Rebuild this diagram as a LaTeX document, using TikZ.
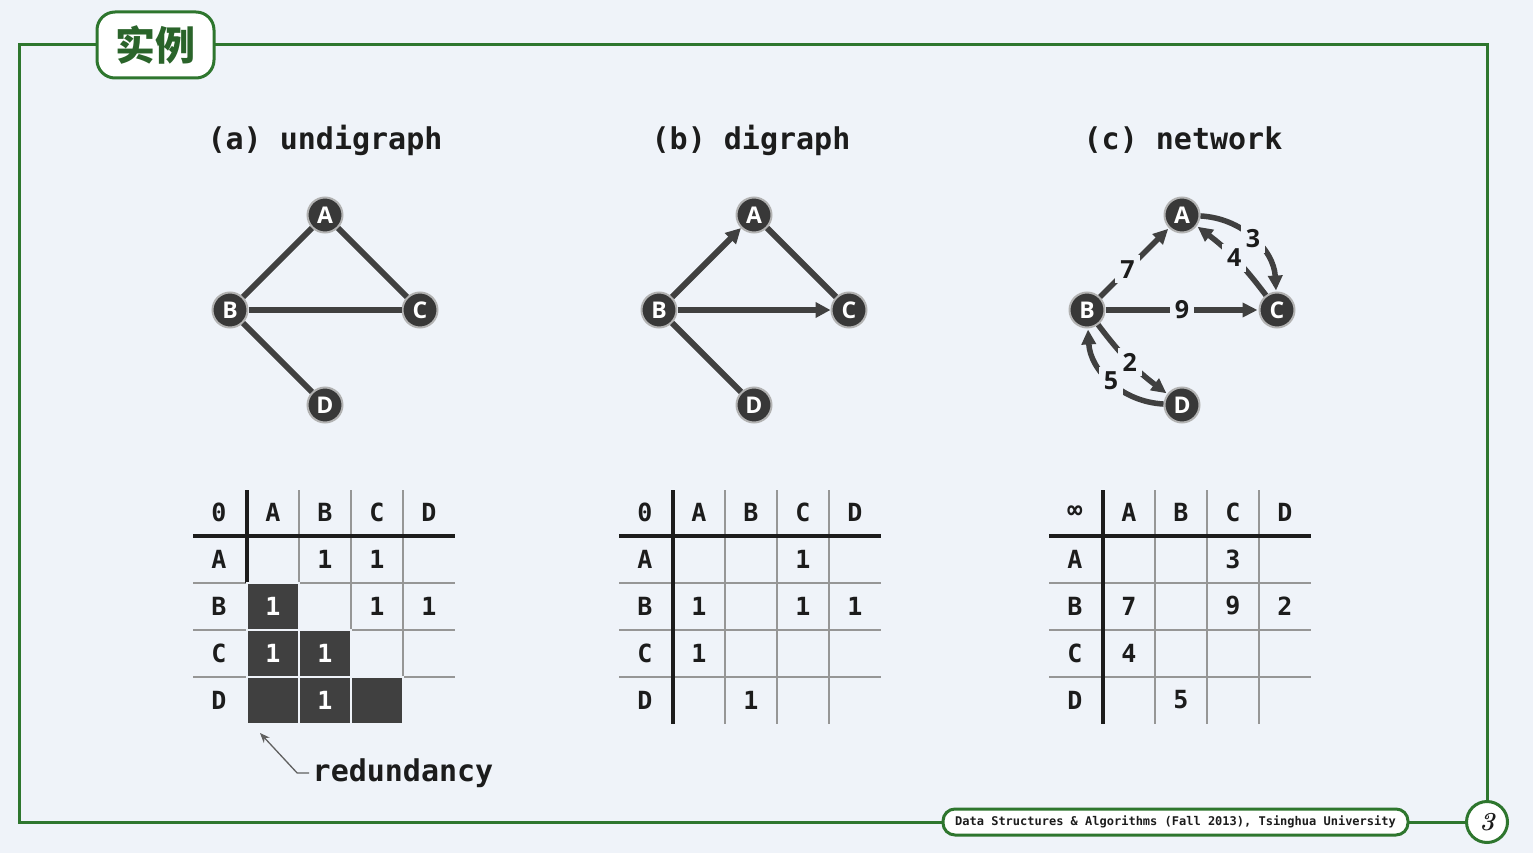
\documentclass[tikz,border=0pt]{standalone}
\usepackage{fontspec}
\newfontfamily\cjk{Noto Sans CJK SC}
\newfontfamily\mono{DejaVu Sans Mono}
\newfontfamily\gsans{Open Sans}
\usetikzlibrary{arrows.meta}
\definecolor{bg}{RGB}{239,243,249}
\definecolor{frameg}{RGB}{46,118,46}
\definecolor{titleg}{RGB}{42,100,42}
\definecolor{edgec}{RGB}{64,64,64}
\definecolor{nodec}{RGB}{56,56,56}
\definecolor{gridc}{RGB}{150,150,150}
\definecolor{txt}{RGB}{28,28,28}
\newcommand\drawgrid[2]{%
  \foreach \k in {52,104,156} \draw[gridthin] (#1+\k,490) -- (#1+\k,724);
  \foreach \yy in {583,630,677} \draw[gridthin] (#1-54,\yy) -- (#1+208,\yy);
  \draw[gridthick] (#1-54,536) -- (#1+208,536);
  \draw[gridthick] (#1,490) -- (#1,#2);
}
\newcommand\heads[3]{%
  \node[celltxt] (#1-corner) at (#2-28,512) {#3};
  \foreach \l [count=\i] in {A,B,C,D} {
    \node[celltxt] (#1-h\l) at (#2-26+52*\i,512) {\l};
    \node[celltxt] (#1-r\l) at (#2-28,512+47*\i) {\l};
  }
}
\newcommand\val[6][txt]{\node[celltxt,text=#1] (#2) at (#3-26+52*#5,512+47*#4) {#6};}
\begin{document}
\begin{tikzpicture}[x=1pt,y=-1pt,
  vtx/.style={circle,fill=nodec,draw=gray!60,line width=2pt,minimum size=35pt,inner sep=0pt,text=white,font=\gsans\bfseries\fontsize{23}{23}\selectfont},
  gedge/.style={line width=6pt,draw=edgec},
  arr/.style={-{Triangle[length=15pt,width=15pt]}},
  narr/.style={line width=5.5pt,draw=edgec,-{Triangle[length=15pt,width=14pt]},shorten >=1pt},
  lbl/.style={fill=bg,inner sep=5pt,text=txt,font=\gsans\bfseries\fontsize{25}{25}\selectfont},
  headtxt/.style={text=txt,font=\mono\bfseries\fontsize{30}{36}\selectfont},
  celltxt/.style={text=txt,font=\mono\bfseries\fontsize{25}{30}\selectfont,inner sep=0pt},
  gridthin/.style={draw=gridc,line width=1.5pt},
  gridthick/.style={draw=txt,line width=3.5pt},
  darkcell/.style={fill=edgec,draw=bg,line width=2pt},
  frame/.style={draw=frameg,line width=3pt},
  pointer/.style={draw=gray!75!black,line width=1.3pt,-{Stealth[length=10pt,width=8pt]}}
]
\useasboundingbox[fill=bg] (0,0) rectangle (1533,853);
% frame
\draw[frame] (19,45) rectangle (1487,822);
\node[frame,fill=white,rounded corners=18pt,minimum width=117pt,minimum height=66pt,inner sep=0pt,text=titleg,font=\cjk\bfseries\fontsize{40}{40}\selectfont] (title) at (155.5,45) {实例};
\node[frame,fill=white,rounded corners=12pt,minimum width=465pt,minimum height=26pt,inner sep=0pt,text=txt,font=\mono\bfseries\fontsize{12}{12}\selectfont] (footer) at (1175.5,822) {Data Structures \& Algorithms (Fall 2013), Tsinghua University};
\node[frame,fill=white,circle,minimum size=41pt,inner sep=0pt,text=txt,font=\bfseries\itshape\fontsize{26}{26}\selectfont] (page) at (1487,822) {3};

% headings
\node[headtxt] (ha) at (325,140) {(a) undigraph};
\node[headtxt] (hb) at (751,140) {(b) digraph};
\node[headtxt] (hc) at (1183,140) {(c) network};

% graph (a)
\node[vtx] (aA) at (325,215) {A};
\node[vtx] (aB) at (230,310) {B};
\node[vtx] (aC) at (420,310) {C};
\node[vtx] (aD) at (325,405) {D};
\draw[gedge] (aB) -- (aA);
\draw[gedge] (aA) -- (aC);
\draw[gedge] (aB) -- (aC);
\draw[gedge] (aB) -- (aD);

% graph (b)
\node[vtx] (bA) at (754,215) {A};
\node[vtx] (bB) at (659,310) {B};
\node[vtx] (bC) at (849,310) {C};
\node[vtx] (bD) at (754,405) {D};
\draw[gedge,arr] (bB) -- (bA);
\draw[gedge] (bA) -- (bC);
\draw[gedge,arr] (bB) -- (bC);
\draw[gedge] (bB) -- (bD);

% graph (c)
\node[vtx] (cA) at (1182,215) {A};
\node[vtx] (cB) at (1087,310) {B};
\node[vtx] (cC) at (1277,310) {C};
\node[vtx] (cD) at (1182,405) {D};
\draw[narr] (cB) -- node[lbl,pos=0.4] (l7) {7} (cA);
\draw[narr] (cB) -- node[lbl,pos=0.5] (l9) {9} (cC);
\draw[narr] (cA) to[bend left=42] node[lbl,pos=0.5] (l3) {3} (cC);
\draw[narr] (cC) to[bend right=8] node[lbl,pos=0.5] (l4) {4} (cA);
\draw[narr] (cB) to[bend right=8] node[lbl,pos=0.5] (l2) {2} (cD);
\draw[narr] (cD) to[bend left=42] node[lbl,pos=0.5] (l5) {5} (cB);

% table (a)
\drawgrid{247}{583}
\foreach \r/\c in {2/1,3/1,3/2,4/1,4/2,4/3}
  \draw[darkcell] (247+52*\c-52,583+47*\r-94) rectangle ++(52,47);
\heads{ta}{247}{0}
\val{ta-AB}{247}{1}{2}{1}
\val{ta-AC}{247}{1}{3}{1}
\val[white]{ta-BA}{247}{2}{1}{1}
\val{ta-BC}{247}{2}{3}{1}
\val{ta-BD}{247}{2}{4}{1}
\val[white]{ta-CA}{247}{3}{1}{1}
\val[white]{ta-CB}{247}{3}{2}{1}
\val[white]{ta-DB}{247}{4}{2}{1}
\node[headtxt] (red) at (403,773) {redundancy};
\coordinate (redtip) at (260,733);
\draw[pointer] (red.west) -- ++(-12,0) -- (redtip);

% table (b)
\drawgrid{673}{724}
\heads{tb}{673}{0}
\val{tb-AC}{673}{1}{3}{1}
\val{tb-BA}{673}{2}{1}{1}
\val{tb-BC}{673}{2}{3}{1}
\val{tb-BD}{673}{2}{4}{1}
\val{tb-CA}{673}{3}{1}{1}
\val{tb-DB}{673}{4}{2}{1}

% table (c)
\drawgrid{1103}{724}
\heads{tc}{1103}{∞}
\val{tc-AC}{1103}{1}{3}{3}
\val{tc-BA}{1103}{2}{1}{7}
\val{tc-BC}{1103}{2}{3}{9}
\val{tc-BD}{1103}{2}{4}{2}
\val{tc-CA}{1103}{3}{1}{4}
\val{tc-DB}{1103}{4}{2}{5}
\end{tikzpicture}
\end{document}
